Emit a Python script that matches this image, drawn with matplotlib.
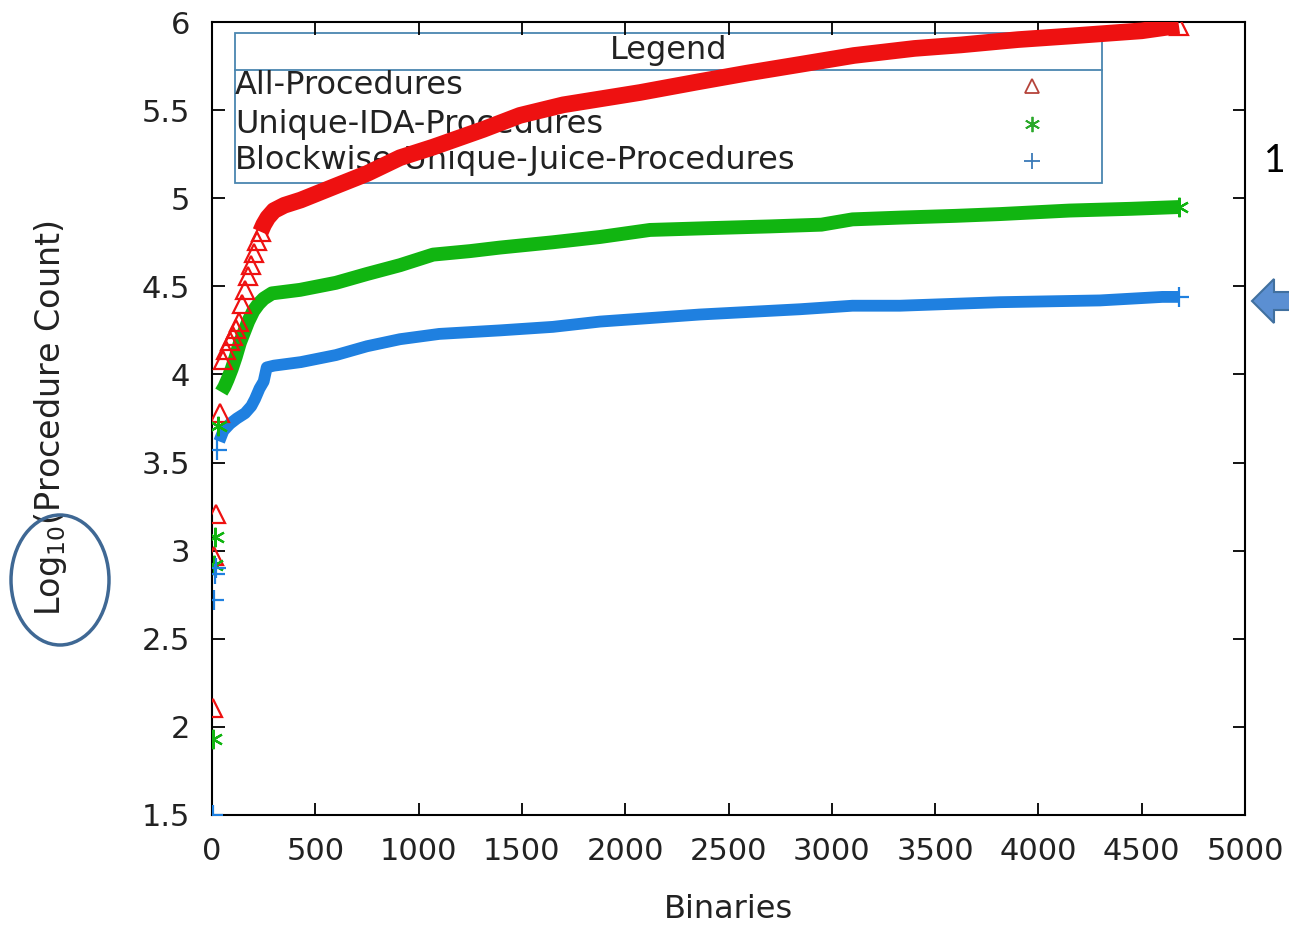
import matplotlib.pyplot as plt
from matplotlib.patches import Ellipse, Polygon, Rectangle

# log10 of procedure counts, binaries sorted by count
# first few binaries are scattered, the rest form a dense band
all_pts_x = [3, 10, 18, 38, 55, 70, 85, 100, 115, 130, 145, 160, 175, 190, 205, 220, 235]
all_pts_y = [2.11, 2.97, 3.21, 3.78, 4.08, 4.14, 4.19, 4.22, 4.26, 4.30, 4.40, 4.48,
             4.56, 4.62, 4.69, 4.76, 4.81]
all_band_x = [235, 250, 270, 300, 350, 430, 600, 750, 910, 1070, 1312, 1490, 1700,
              2072, 2350, 2590, 2850, 3107, 3400, 3625, 3900, 4148, 4500, 4680]
all_band_y = [4.81, 4.85, 4.89, 4.93, 4.96, 4.99, 5.07, 5.14, 5.23, 5.29, 5.39, 5.47,
              5.53, 5.60, 5.66, 5.71, 5.76, 5.81, 5.85, 5.87, 5.90, 5.92, 5.95, 5.98]

ida_pts_x = [3, 10, 14, 28]
ida_pts_y = [1.93, 2.92, 3.08, 3.71]
ida_band_x = [45, 60, 75, 95, 115, 135, 155, 175, 200, 225, 250, 290, 426, 600, 750,
              910, 1070, 1250, 1394, 1650, 1878, 2120, 2400, 2700, 2950, 3100, 3330,
              3600, 3814, 4150, 4450, 4680]
ida_band_y = [3.90, 3.93, 3.97, 4.03, 4.10, 4.18, 4.24, 4.30, 4.36, 4.40, 4.43, 4.46,
              4.48, 4.52, 4.57, 4.62, 4.68, 4.70, 4.72, 4.75, 4.78, 4.82, 4.83, 4.84,
              4.85, 4.88, 4.89, 4.90, 4.91, 4.93, 4.94, 4.95]

juice_pts_x = [3, 8, 13, 18, 22]
juice_pts_y = [1.50, 2.72, 2.87, 2.90, 3.57]
juice_band_x = [35, 55, 87, 120, 160, 190, 208, 230, 250, 265, 300, 430, 600, 750, 910,
                1100, 1394, 1650, 1878, 2120, 2360, 2846, 3100, 3330, 3814, 4298, 4600,
                4680]
juice_band_y = [3.62, 3.68, 3.72, 3.75, 3.78, 3.82, 3.86, 3.92, 3.96, 4.04, 4.05, 4.07,
                4.11, 4.16, 4.20, 4.23, 4.25, 4.27, 4.30, 4.32, 4.34, 4.37, 4.39, 4.39,
                4.41, 4.42, 4.44, 4.44]

labels = ['All-Procedures', 'Unique-IDA-Procedures', 'Blockwise-Unique-Juice-Procedures']

x_ticks = list(range(0, 5001, 500))
y_ticks = [1.5, 2, 2.5, 3, 3.5, 4, 4.5, 5, 5.5, 6]
y_tick_labels = ['1.5', '2', '2.5', '3', '3.5', '4', '4.5', '5', '5.5', '6']

RED = '#ee1111'
GREEN = '#11b511'
BLUE = '#1f80e0'
TXT = '#222222'

plt.rcParams['font.family'] = ['DejaVu Sans']

fig = plt.figure(figsize=(12.89, 9.25), dpi=100)
ax = fig.add_axes([212 / 1289, 1 - 815 / 925, 1033 / 1289, 793 / 925])

# dense bands
ax.plot(all_band_x, all_band_y, color=RED, lw=12, solid_capstyle='butt', zorder=3)
ax.plot(ida_band_x, ida_band_y, color=GREEN, lw=10, solid_capstyle='butt', zorder=3)
ax.plot(juice_band_x, juice_band_y, color=BLUE, lw=8.5, solid_capstyle='butt', zorder=3)

# individual markers
ax.plot(all_pts_x + all_band_x[-1:], all_pts_y + all_band_y[-1:], ls='none', marker='^',
        ms=13, mfc='none', mec=RED, mew=1.6, zorder=4)
ax.plot(ida_pts_x + ida_band_x[-1:], ida_pts_y + ida_band_y[-1:], ls='none', marker=(6, 2, 0),
        ms=14, color=GREEN, mew=1.6, zorder=4)
ax.plot(juice_pts_x + juice_band_x[-1:], juice_pts_y + juice_band_y[-1:], ls='none', marker='+',
        ms=15, color=BLUE, mew=1.6, zorder=4)

ax.set_xlim(0, 5000)
ax.set_ylim(1.5, 6)
ax.set_xticks(x_ticks)
ax.set_yticks(y_ticks)
ax.set_yticklabels(y_tick_labels)
ax.tick_params(direction='in', length=9, width=1.3, top=True, right=True,
               labelsize=22, pad=16, colors='black', labelcolor=TXT)
for s in ax.spines.values():
    s.set_linewidth(1.5)

ax.set_xlabel('Binaries', fontsize=23, labelpad=20, color=TXT)
ax.set_ylabel('Log$_{10}$(Procedure Count)', fontsize=24, labelpad=52, color=TXT)

# legend box drawn in axes coordinates, under the data
lx0, lx1 = (235 - 212) / 1033, (1102 - 212) / 1033
ly0, ly1 = (815 - 183) / 793, (815 - 33) / 793
ldiv = (815 - 70) / 793
box_col = '#4a86b0'
ax.add_patch(Rectangle((lx0, ly0), lx1 - lx0, ly1 - ly0, transform=ax.transAxes,
                       fill=False, ec=box_col, lw=1.3, zorder=1))
ax.plot([lx0, lx1], [ldiv, ldiv], transform=ax.transAxes, color=box_col, lw=1.3, zorder=1)
ax.text((lx0 + lx1) / 2, (815 - 50) / 793, 'Legend', transform=ax.transAxes,
        ha='center', va='center', fontsize=23, color=TXT, zorder=1)
row_y = [(815 - 86) / 793, (815 - 124) / 793, (815 - 161) / 793]
mark_x = (1032 - 212) / 1033
leg_styles = [dict(marker='^', mfc='none', mec='#b5433a', ms=10, mew=1.3),
              dict(marker=(6, 2, 0), color='#2aa82a', ms=11, mew=1.3),
              dict(marker='+', color='#3a7ab8', ms=12, mew=1.3)]
for lab, yy, st in zip(labels, row_y, leg_styles):
    ax.text(lx0, yy, lab, transform=ax.transAxes, ha='left', va='center',
            fontsize=23, color=TXT, zorder=1)
    ax.plot([mark_x], [yy], transform=ax.transAxes, ls='none', zorder=1, **st)

# ring around the Log10 part of the axis label
fig.patches.append(Ellipse((60 / 1289, 1 - 580 / 925), 98 / 1289, 130 / 925,
                           transform=fig.transFigure, fill=False, ec='#3f6894', lw=2.5))

# block arrow pointing at the blue band
arrow_px = [(1252, 301), (1274, 279), (1274, 292), (1300, 292), (1300, 310),
            (1274, 310), (1274, 323)]
fig.patches.append(Polygon([(px / 1289, 1 - py / 925) for px, py in arrow_px],
                           closed=True, transform=fig.transFigure,
                           fc='#5b8fd2', ec='#41709f', lw=1.5))

fig.text(1286 / 1289, 1 - 172 / 925, '1', fontsize=27, family='Lato',
         ha='right', va='baseline', color='black')

plt.savefig('out.png', dpi=100)
